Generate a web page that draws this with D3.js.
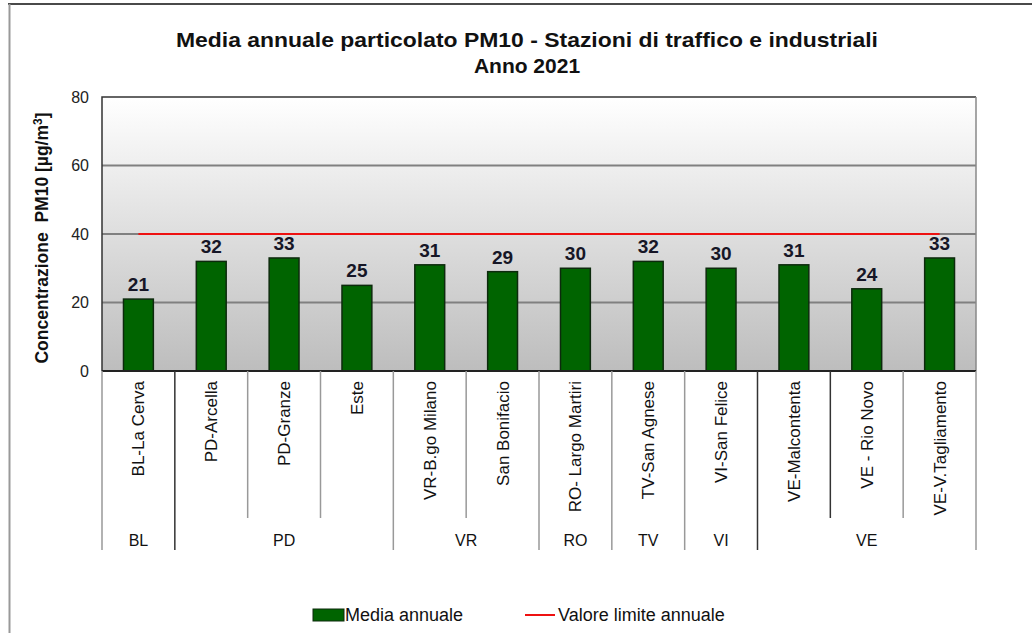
<!DOCTYPE html>
<html>
<head>
<meta charset="utf-8">
<script src="https://cdn.jsdelivr.net/npm/d3@7"></script>
<style>
  body { margin: 0; background: #fff; }
  svg { display: block; font-family: "Liberation Sans", Arial, sans-serif; }
</style>
</head>
<body>
<div id="chart"></div>
<script>
// data
var stations = ["BL-La Cerva", "PD-Arcella", "PD-Granze", "Este", "VR-B.go Milano", "San Bonifacio",
                "RO- Largo Martiri", "TV-San Agnese", "VI-San Felice", "VE-Malcontenta", "VE - Rio Novo", "VE-V.Tagliamento"];
var provinces = ["BL", "PD", "PD", "PD", "VR", "VR", "RO", "TV", "VI", "VE", "VE", "VE"];
var mediaAnnuale = [21, 32, 33, 25, 31, 29, 30, 32, 30, 31, 24, 33];
var valoreLimite = 40;
var yTicks = [0, 20, 40, 60, 80];

var W = 1032, H = 633;
var pLeft = 102, pRight = 976, pTop = 97, pBottom = 371;

var svg = d3.select("#chart").append("svg")
    .attr("width", W)
    .attr("height", H);

var x = d3.scaleBand().domain(d3.range(stations.length)).range([pLeft, pRight])
    .paddingInner(0.59).paddingOuter(0.295);
var xb = d3.scaleBand().domain(d3.range(stations.length)).range([pLeft, pRight]).padding(0);
var y = d3.scaleLinear().domain([0, 80]).range([pBottom, pTop]);

// outer frame
svg.append("line").attr("x1", 8).attr("x2", W).attr("y1", 4).attr("y2", 4)
    .attr("stroke", "#4a4a4a").attr("stroke-width", 2);
svg.append("line").attr("x1", 9.5).attr("x2", 9.5).attr("y1", 4).attr("y2", H)
    .attr("stroke", "#999").attr("stroke-width", 2);

// plot background gradient
var defs = svg.append("defs");
var grad = defs.append("linearGradient").attr("id", "bg").attr("x1", 0).attr("x2", 0).attr("y1", 0).attr("y2", 1);
grad.append("stop").attr("offset", "0%").attr("stop-color", "#ffffff");
grad.append("stop").attr("offset", "100%").attr("stop-color", "#bdbdbd");

svg.append("rect").attr("x", pLeft).attr("y", pTop).attr("width", pRight - pLeft).attr("height", pBottom - pTop)
    .attr("fill", "url(#bg)");

// gridlines
svg.selectAll(".grid").data(yTicks.filter(d => d > 0 && d < 80)).enter().append("line")
    .attr("x1", pLeft).attr("x2", pRight)
    .attr("y1", d => y(d)).attr("y2", d => y(d))
    .attr("stroke", "#808080").attr("stroke-width", 2);

// frame of plot area
svg.append("path")
    .attr("d", "M" + pLeft + "," + pBottom + "V" + pTop + "H" + pRight)
    .attr("fill", "none").attr("stroke", "#333").attr("stroke-width", 1.5);
svg.append("line").attr("x1", pRight).attr("x2", pRight).attr("y1", pTop).attr("y2", pBottom)
    .attr("stroke", "#888").attr("stroke-width", 1.5);

// limit line
svg.append("line")
    .attr("x1", x(0) + x.bandwidth() / 2).attr("x2", x(stations.length - 1) + x.bandwidth() / 2)
    .attr("y1", y(valoreLimite)).attr("y2", y(valoreLimite))
    .attr("stroke", "#ee1111").attr("stroke-width", 2);

// bars
svg.selectAll(".bar").data(mediaAnnuale).enter().append("rect")
    .attr("x", (d, i) => x(i))
    .attr("y", d => y(d))
    .attr("width", x.bandwidth())
    .attr("height", d => y(0) - y(d))
    .attr("fill", "#006400")
    .attr("stroke", "#0d2a0d").attr("stroke-width", 1.5);

svg.selectAll(".val").data(mediaAnnuale).enter().append("text")
    .attr("x", (d, i) => x(i) + x.bandwidth() / 2)
    .attr("y", d => y(d) - 8)
    .attr("text-anchor", "middle")
    .attr("font-size", 19).attr("font-weight", "bold").attr("fill", "#161626")
    .text(d => d);

// axis baseline
svg.append("line").attr("x1", pLeft).attr("x2", pRight).attr("y1", pBottom).attr("y2", pBottom)
    .attr("stroke", "#222").attr("stroke-width", 2);

// y axis labels
var yAxis = d3.axisLeft(y).tickValues(yTicks).tickSize(0).tickPadding(13);
var ya = svg.append("g").attr("transform", "translate(" + pLeft + ",0)").call(yAxis);
ya.select(".domain").remove();
ya.selectAll("text").attr("font-size", 16).attr("fill", "#222")
    .attr("font-family", "Liberation Sans, Arial, sans-serif");

svg.append("text")
    .attr("transform", "translate(48," + ((pTop + pBottom) / 2 + 4) + ") rotate(-90)")
    .attr("text-anchor", "middle")
    .attr("font-size", 17.5).attr("font-weight", "bold").attr("fill", "#111")
    .html("Concentrazione&#160;&#160;PM10 [&#181;g/m<tspan dy='-6' font-size='12'>3</tspan><tspan dy='6'>]</tspan>");

// category separators
var catBottom = 518, groupBottom = 550;
var groupStart = provinces.map((p, i) => i === 0 || provinces[i - 1] !== p);
var seps = d3.range(stations.length + 1);
svg.selectAll(".sep").data(seps).enter().append("line")
    .attr("x1", i => i < stations.length ? xb(i) : pRight)
    .attr("x2", i => i < stations.length ? xb(i) : pRight)
    .attr("y1", pBottom)
    .attr("y2", i => (i === 0 || i === stations.length || groupStart[i]) ? groupBottom : catBottom)
    .attr("stroke", i => (i === 1 || i === 9 || i === 10) ? "#333" : "#999")
    .attr("stroke-width", 1.5);

// station labels
svg.selectAll(".cat").data(stations).enter().append("text")
    .attr("transform", (d, i) => "translate(" + (xb(i) + xb.bandwidth() / 2 + 6) + "," + (pBottom + 10) + ") rotate(-90)")
    .attr("text-anchor", "end")
    .attr("font-size", 17).attr("fill", "#111")
    .text(d => d);

// province labels
var groups = [];
provinces.forEach((p, i) => {
  if (groupStart[i]) groups.push({ name: p, start: i, end: i });
  else groups[groups.length - 1].end = i;
});
svg.selectAll(".grp").data(groups).enter().append("text")
    .attr("x", g => (xb(g.start) + xb(g.end) + xb.bandwidth()) / 2)
    .attr("y", 546)
    .attr("text-anchor", "middle")
    .attr("font-size", 16).attr("fill", "#111")
    .text(g => g.name);

// title
svg.append("text").attr("x", 527).attr("y", 47).attr("text-anchor", "middle")
    .attr("font-size", 21).attr("font-weight", "bold").attr("fill", "#111")
    .attr("textLength", 702).attr("lengthAdjust", "spacingAndGlyphs")
    .text("Media annuale particolato PM10 - Stazioni di traffico e industriali");
svg.append("text").attr("x", 527).attr("y", 73).attr("text-anchor", "middle")
    .attr("font-size", 21).attr("font-weight", "bold").attr("fill", "#111")
    .text("Anno 2021");

// legend
var lg = svg.append("g");
lg.append("rect").attr("x", 313).attr("y", 609).attr("width", 31).attr("height", 12)
    .attr("fill", "#006400").attr("stroke", "#0d2a0d").attr("stroke-width", 1);
lg.append("text").attr("x", 345).attr("y", 621).attr("font-size", 18).attr("fill", "#111")
    .text("Media annuale");
lg.append("line").attr("x1", 525).attr("x2", 555).attr("y1", 615).attr("y2", 615)
    .attr("stroke", "#ee1111").attr("stroke-width", 2);
lg.append("text").attr("x", 558).attr("y", 621).attr("font-size", 18).attr("fill", "#111")
    .text("Valore limite annuale");
</script>
</body>
</html>
